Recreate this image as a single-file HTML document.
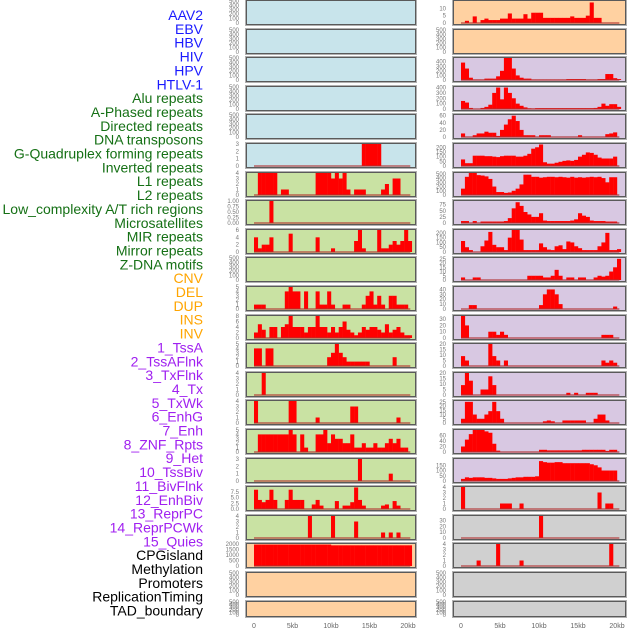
<!DOCTYPE html>
<html><head><meta charset="utf-8">
<style>
html,body{margin:0;padding:0;background:#fff;}
svg{display:block;font-family:"Liberation Sans",sans-serif;}
</style></head>
<body>
<svg id="chart" width="630" height="630" viewBox="0 0 630 630" xmlns="http://www.w3.org/2000/svg"></svg>
<script>
// ---- Track labels ----
const labelTexts = ["AAV2","EBV","HBV","HIV","HPV","HTLV-1","Alu repeats","A-Phased repeats","Directed repeats","DNA transposons","G-Quadruplex forming repeats","Inverted repeats","L1 repeats","L2 repeats","Low_complexity A/T rich regions","Microsatellites","MIR repeats","Mirror repeats","Z-DNA motifs","CNV","DEL","DUP","INS","INV","1_TssA","2_TssAFlnk","3_TxFlnk","4_Tx","5_TxWk","6_EnhG","7_Enh","8_ZNF_Rpts","9_Het","10_TssBiv","11_BivFlnk","12_EnhBiv","13_ReprPC","14_ReprPCWk","15_Quies","CPGisland","Methylation","Promoters","ReplicationTiming","TAD_boundary"];
const labelGroups = [6,13,5,15,5];
const groupColors = ["#1a1aff","#157015","#ffa500","#a020f0","#000000"];

// ---- X axis ----
const xTicks = [0,5,10,15,20];
const xTickLabels = ["0","5kb","10kb","15kb","20kb"];
const binKb = 0.5;

// ---- Left column series (0.5kb bins) ----
const L5 = [0,0,0,0,0,0,0,0,0,0, 0,0,0,0,0,0,0,0,0,0, 0,0,0,0,0,0,0,0,3,3, 3,3,3,0,0,0,0,0,0,0, 0];
const L6 = [0,4,4,4,4,4,0,1,1,0, 0,0,0,0,0,0,4,4,4,4, 3,4,3,4,1,0,1,1,1,0, 0,0,0,1,2,0,3,3,0,0, 0];
const L7 = [0,0,0,0,1,0,0,0,0,0, 0,0,0,0,0,0,0,0,0,0, 0,0,0,0,0,0,0,0,0,0, 0,0,0,0,0,0,0,0,0,0, 0];
const L8 = [4,1,2,2,4,0,0,0,0,5, 0,0,0,0,0,0,4,0,0,0, 1,0,0,0,0,0,3,6,1,0, 0,0,6,1,1,2,3,2,3,6, 3];
const L10 = [1,1,1,0,0,0,0,0,4,5, 4,4,0,4,0,0,4,1,1,4, 1,0,0,1,1,0,0,0,1,3, 4,1,3,1,0,3,3,1,1,1, 0];
const L11 = [2,5,3,0,4,4,0,4,5,8, 4,4,4,2,4,4,8,4,4,2, 4,2,4,6,3,2,1,2,4,3, 4,4,3,2,5,2,3,4,2,1, 1];
const L12 = [4,4,0,4,4,0,0,0,0,0, 0,0,0,0,0,0,0,0,0,2, 3,5,3,2,1,1,1,1,1,1, 0,0,0,0,0,0,2,0,0,0, 0];
const L13 = [0,0,4,0,0,0,0,0,0,0, 0,0,0,0,0,0,0,0,0,0, 0,0,0,0,0,0,0,0,0,0, 0,0,0,0,0,0,0,0,0,0, 0];
const L14 = [4,0,0,0,0,0,0,0,0,4, 4,0,0,0,0,0,1,0,0,0, 0,0,0,0,0,3,3,0,0,0, 0,0,0,0,0,0,0,1,0,0, 0];
const L15 = [0,4,4,4,4,4,4,4,4,5, 4,0,4,1,0,0,4,4,5,2, 4,3,3,2,2,4,1,1,2,1, 1,2,1,1,2,3,2,3,1,1, 0];
const L16 = [0,0,0,0,0,0,0,0,0,0, 0,0,0,0,0,0,0,0,0,0, 0,0,0,0,0,0,0,3,0,0, 0,0,0,0,0,1,0,0,0,0, 0];
const L17 = [8.5,4,3,4,8.5,4,0,0,4,8.5, 4,4,4,0,0,2,4,1.5,0,0, 0,3.5,0,1.5,1.5,3,9.5,4,1.5,0, 0,0,0,1.5,2,0,3.5,1.5,0,0, 0];
const L18 = [0,0,0,0,0,0,0,0,0,0, 0,0,0,0,4,0,0,0,0,0, 4,0,0,0,0,0,3,0,0,0, 0,0,0,1,0,1,0,1,0,0, 0];
const L19 = [1950,1950,1950,1950,1950,1950,1950,1950,1950,1950, 1950,1950,1950,1950,1950,1950,1950,1950,1950,1950, 1880,1880,1880,1880,1880,1880,1880,1880,1880,1880, 1880,1880,1880,1880,1880,1880,1880,1880,1880,1880, 1880];

// ---- Right column series (0.5kb bins) ----
const R0 = [0,1.5,0,4.5,0,2,3,2,2,2, 3,3,6.5,3,3,3,6,3,7,7, 7,3.5,3.5,3.5,3.5,3.5,3.5,3.5,4.5,3.5, 3.5,3.5,5,14,3.5,3.5,0,0,0,0, 0];
const R2 = [380,250,50,5,5,5,30,30,30,80, 200,480,480,250,100,50,30,30,5,5, 5,5,5,5,5,5,5,20,20,20, 20,20,5,5,5,20,20,130,130,40, 20];
const R3 = [150,120,20,0,0,20,40,80,300,400, 180,400,300,200,100,60,30,10,5,15, 15,15,15,15,15,15,15,15,15,15, 15,15,15,15,20,40,100,60,90,90, 40];
const R4 = [10,0,0,5,10,10,15,12,12,3, 20,35,50,60,45,20,5,5,5,0, 5,5,5,0,0,0,0,0,0,0, 5,0,0,0,0,0,0,8,10,13, 0];
const R5 = [70,30,30,110,110,110,105,105,100,95, 105,110,110,110,100,100,110,130,185,200, 230,40,25,25,35,45,55,60,55,65, 100,120,145,140,120,90,80,80,80,100, 0];
const R6 = [150,430,520,520,470,460,440,380,200,70, 70,50,60,100,150,250,480,480,430,430, 410,420,430,430,420,430,420,410,430,410, 420,410,420,430,420,430,400,300,420,420, 0];
const R7 = [8,8,0,8,0,6,6,6,6,6, 6,8,20,60,85,70,45,35,25,25, 40,10,8,8,8,8,8,8,10,15, 40,30,25,10,8,8,8,6,6,6, 0];
const R8 = [115,50,20,0,0,60,120,210,75,50, 50,20,150,230,230,130,20,20,20,20, 90,50,25,20,60,70,30,110,100,60, 40,20,20,20,20,60,100,200,20,20, 30];
const R9 = [3,0,0,3,3,0,0,0,0,0, 0,0,0,0,0,0,0,5,5,5, 5,3,3,5,12,5,0,3,3,0, 3,3,0,0,3,5,4,5,10,15, 25];
const R10 = [0,0,8,8,0,0,0,0,0,0, 0,0,0,0,0,0,0,0,0,0, 8,30,40,40,30,10,0,0,0,0, 0,0,0,0,0,0,0,0,0,5, 0];
const R11 = [35,20,0,0,0,0,0,10,10,5, 10,5,0,0,0,0,0,0,0,0, 0,0,0,0,0,0,0,0,0,0, 0,0,0,0,0,0,5,5,5,0, 0];
const R12 = [9,5,0,0,0,0,0,20,9,5, 0,5,0,0,0,0,0,0,0,0, 0,0,0,0,0,0,0,0,0,0, 0,0,0,0,0,0,5,3,5,3, 0];
const R13 = [9,20,13,0,0,5,5,17,9,0, 0,0,0,0,0,0,0,0,0,0, 0,0,0,0,0,0,0,2,0,2, 0,0,2,2,2,0,0,0,0,0, 0];
const R14 = [5,25,25,10,5,5,10,14,25,14, 5,0,0,0,0,0,0,0,0,0, 0,2,3,2,0,0,3,3,3,3, 3,3,0,0,5,10,10,3,0,0, 0];
const R15 = [20,45,65,80,80,80,75,70,30,5, 0,0,0,0,0,0,0,0,0,0, 8,8,6,6,6,6,6,6,6,6, 6,8,8,8,8,8,8,4,8,8, 0];
const R16 = [20,35,30,35,35,35,30,30,25,20, 20,20,25,30,35,35,40,40,40,45, 190,180,175,175,180,180,170,170,170,170, 170,170,170,160,150,130,100,100,100,100, 0];
const R17 = [4,0,0,0,0,0,0,0,0,0, 1,1,1,0,0,1,0,0,0,0, 0,0,0,0,0,0,0,0,0,0, 0,0,0,0,0,3,0,1,1,0, 0];
const R18 = [0,0,0,0,0,0,0,0,0,0, 0,0,0,0,0,0,0,0,0,0, 38,0,0,0,0,0,0,0,0,0, 0,0,0,0,0,0,0,0,0,0, 0];
const R19 = [0,0,0,0,1,0,0,0,0,4, 0,0,0,0,0,1,0,0,0,0, 0,0,0,0,0,0,0,0,0,0, 0,0,0,0,0,0,0,0,4,0, 0];

// ---- Panel axis settings ----
const T500 = [0,100,200,300,400,500];
const leftYMax = [500,500,500,500,500,3,4,1,6,500,5,8,5,4,4,5,3,9.7,4,2000,500,500];
const leftTicks = [T500,T500,T500,T500,T500,[0,1,2,3],[0,1,2,3,4],[0,0.25,0.5,0.75,1],[0,2,4,6],T500,[0,1,2,3,4,5],[0,2,4,6,8],[0,1,2,3,4,5],[0,1,2,3,4],[0,1,2,3,4],[0,1,2,3,4,5],[0,1,2,3],[0,2.5,5,7.5],[0,1,2,3,4],[0,500,1000,1500,2000],T500,T500];
const leftSeries = [null,null,null,null,null,L5,L6,L7,L8,null,L10,L11,L12,L13,L14,L15,L16,L17,L18,L19,null,null];
const leftBg = ["#c8e4eb","#c8e4eb","#c8e4eb","#c8e4eb","#c8e4eb","#c8e4eb","#c9e2a3","#c9e2a3","#c9e2a3","#c9e2a3","#c9e2a3","#c9e2a3","#c9e2a3","#c9e2a3","#c9e2a3","#c9e2a3","#c9e2a3","#c9e2a3","#c9e2a3","#ffd1a1","#ffd1a1","#ffd1a1"];
const rightYMax = [15,500,480,410,62,235,520,90,230,26,45,35,20,20,26,80,210,4,38,4,500,500];
const rightTicks = [[0,5,10],T500,[0,100,200,300,400],[0,100,200,300,400],[0,20,40,60],[0,50,100,150,200],[0,100,200,300,400,500],[0,25,50,75],[0,50,100,150,200],[0,5,10,15,20,25],[0,10,20,30,40],[0,10,20,30],[0,5,10,15,20],[0,5,10,15,20],[0,5,10,15,20,25],[0,20,40,60],[0,50,100,150],[0,1,2,3,4],[0,10,20,30],[0,1,2,3,4],T500,T500];
const rightSeries = [R0,null,R2,R3,R4,R5,R6,R7,R8,R9,R10,R11,R12,R13,R14,R15,R16,R17,R18,R19,null,null];
const rightBg = ["#ffd1a1","#ffd1a1","#d8c8e2","#d8c8e2","#d8c8e2","#d8c8e2","#d8c8e2","#d8c8e2","#d8c8e2","#d8c8e2","#d8c8e2","#d8c8e2","#d8c8e2","#d8c8e2","#d8c8e2","#d8c8e2","#d8c8e2","#d0d0d0","#d0d0d0","#d0d0d0","#d0d0d0","#d0d0d0"];

const NS = "http://www.w3.org/2000/svg";
const svg = document.getElementById("chart");
function mk(tag, attrs, parent){
  const e = document.createElementNS(NS, tag);
  for (const k in attrs) e.setAttribute(k, attrs[k]);
  (parent||svg).appendChild(e);
  return e;
}

// labels
let li = 0;
labelGroups.forEach((n,g)=>{
  for(let j=0;j<n;j++){
    const t = mk("text",{x:203,y:20+li*13.85,"text-anchor":"end","font-size":"14",fill:groupColors[g]});
    t.textContent = labelTexts[li];
    
    
    li++;
  }
});

const cols = [
  {x0:246,x1:416,zero:254,pxKb:7.7,tickX:239,ymax:leftYMax,ticks:leftTicks,series:leftSeries,bg:leftBg,name:"left"},
  {x0:453,x1:626,zero:461,pxKb:7.8,tickX:446,ymax:rightYMax,ticks:rightTicks,series:rightSeries,bg:rightBg,name:"right"}
];

function fmt(v, ticks){
  if (ticks.some(t=>t%1!==0 && Math.abs(t*4-Math.round(t*4))<1e-9 && String(t).split(".")[1] && String(t).split(".")[1].length===2)) return v.toFixed(2);
  if (ticks.some(t=>t%1!==0)) return v.toFixed(1);
  return String(v);
}

cols.forEach(c=>{
  const xs = kb => c.zero + kb*c.pxKb;
  for(let r=0;r<22;r++){
    const top = Math.round(r*28.6);
    const H = r===21 ? 16 : 25;
    const ymax = c.ymax[r];
    const ys = v => top + H - 2 - v/ymax*(H-3);
    const g = mk("g",{});
    
    
    mk("rect",{x:c.x0-0.5,y:top-0.5,width:c.x1-c.x0+1,height:H+1,fill:"none",stroke:"#b0b0b0","stroke-width":"1"},g);
    const bg = mk("rect",{x:c.x0+0.5,y:top+0.5,width:c.x1-c.x0-1,height:H-1,fill:c.bg[r],stroke:"#5a5a5a","stroke-width":"1"},g);
    
    
    // ticks
    const tk = c.ticks[r];
    tk.forEach(v=>{
      const t = mk("text",{x:c.tickX,y:ys(v)+2,"text-anchor":"end","font-size":"6",fill:"#777"},g);
      t.textContent = fmt(v, tk);
      
      
    });
    const s = c.series[r];
    if (s){
      s.forEach((v,i)=>{
        if (v<=0) return;
        const b = mk("rect",{x:xs(i*binKb),y:ys(v),width:binKb*c.pxKb+0.2,height:ys(0)-ys(v),fill:"#ff0000"},g);
        
        
      });
      const base = mk("rect",{x:xs(0),y:ys(0)-1,width:xs(20.3)-xs(0),height:2,fill:"#b03030","fill-opacity":"0.55"},g);
      
      
    }
  }
  xTicks.forEach((v,i)=>{
    const t = mk("text",{x:xs(v),y:628,"text-anchor":"middle","font-size":"7",fill:"#666"});
    t.textContent = xTickLabels[i];
    
    
  });
});
</script>
</body></html>
